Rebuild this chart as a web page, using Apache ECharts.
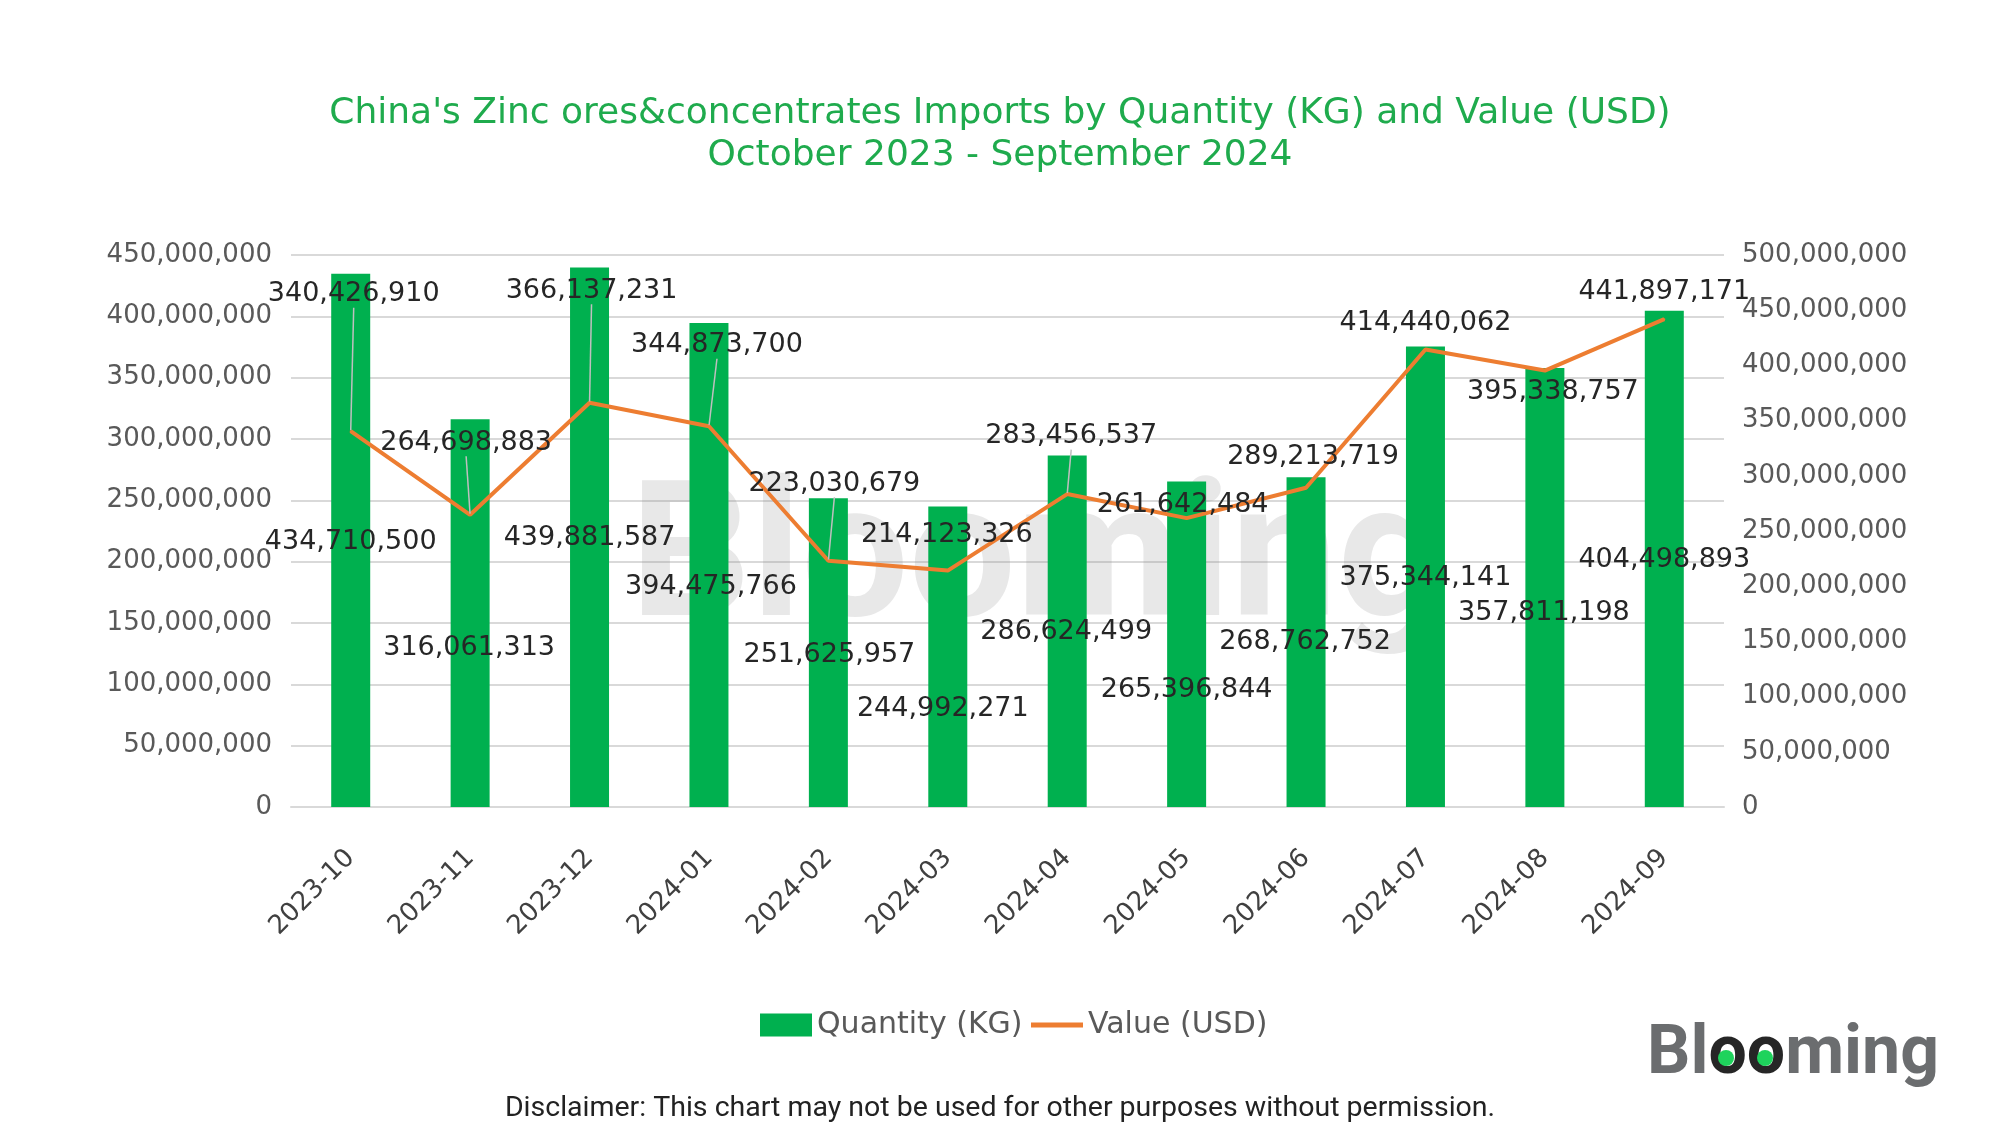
<!DOCTYPE html>
<html><head><meta charset="utf-8">
<script src="https://cdn.jsdelivr.net/npm/echarts@6/dist/echarts.min.js"></script>
<style>html,body{margin:0;padding:0;background:#fff}#c{width:2000px;height:1125px}</style>
</head><body><div id="c"></div>
<script>
const categories = ['2023-10','2023-11','2023-12','2024-01','2024-02','2024-03','2024-04','2024-05','2024-06','2024-07','2024-08','2024-09'];
const quantityKG = [434710500, 316061313, 439881587, 394475766, 251625957, 244992271, 286624499, 265396844, 268762752, 375344141, 357811198, 404498893];
const valueUSD = [340426910, 264698883, 366137231, 344873700, 223030679, 214123326, 283456537, 261642484, 289213719, 414440062, 395338757, 441897171];
const leftTicks = {min: 0, max: 450000000, interval: 50000000};
const rightTicks = {min: 0, max: 500000000, interval: 50000000};

// label displacement (pixels) relative to default anchor
const barLabelShift = [[0,2],[-1,35],[0,1],[2,22],[1,2],[-5,52],[-1,1],[0,46],[-1,0],[0,1],[-1,25],[0,1]];
const lineLabelShift = [[3,-137],[-4,-72],[2,-112],[8,-81],[6,-77],[-1,-36],[4,-58],[-4,-13],[7,-31],[0,-26],[8,21],[0,-27]];
const lineLeader = [true,true,true,true,true,false,true,false,false,false,false,false];

const fmt = v => v.toLocaleString('en-US');
const NUM_FONT = 'DejaVu Sans';
const chart = echarts.init(document.getElementById('c'), null, {renderer:'canvas'});
chart.setOption({
  backgroundColor: '#ffffff',
  animation: false,
  title: {
    text: "China's Zinc ores&concentrates Imports by Quantity (KG) and Value (USD)\nOctober 2023 - September 2024",
    left: 'center', top: 88,
    textStyle: {fontFamily: NUM_FONT, fontWeight: 'normal', fontSize: 36, color: '#1fab4d', lineHeight: 42}
  },
  legend: {
    bottom: 80, left: 755,
    itemWidth: 52, itemHeight: 23, itemGap: 6,
    textStyle: {fontFamily: NUM_FONT, fontSize: 30, color: '#595959'},
    data: [{name: 'Quantity (KG)', icon: 'rect'},
           {name: 'Value (USD)', itemStyle: {opacity: 0}, lineStyle: {width: 5, color: '#ed7d31'}}]
  },
  grid: {left: 291, right: 276, top: 255, bottom: 318, containLabel: false},
  xAxis: {
    type: 'category', data: categories,
    axisLine: {lineStyle: {color: '#d9d9d9', width: 2}},
    axisTick: {show: false},
    axisLabel: {rotate: 45, margin: 47, fontFamily: NUM_FONT, fontSize: 26, color: '#404040', interval: 0}
  },
  yAxis: [
    {type: 'value', min: leftTicks.min, max: leftTicks.max, interval: leftTicks.interval,
     axisLine: {show: false}, axisTick: {show: false},
     splitLine: {lineStyle: {color: '#d9d9d9', width: 2}},
     axisLabel: {formatter: fmt, margin: 19, fontFamily: NUM_FONT, fontSize: 26, color: '#595959'}},
    {type: 'value', min: rightTicks.min, max: rightTicks.max, interval: rightTicks.interval,
     axisLine: {show: false}, axisTick: {show: false}, splitLine: {show: false},
     axisLabel: {formatter: fmt, margin: 18, fontFamily: NUM_FONT, fontSize: 26, color: '#595959'}}
  ],
  series: [
    {
      name: 'Quantity (KG)', type: 'bar', yAxisIndex: 0, barWidth: 39, z: 3,
      itemStyle: {color: '#00b04f'},
      data: quantityKG,
      label: {show: true, position: 'inside', formatter: p => fmt(p.value),
              fontFamily: NUM_FONT, fontSize: 27, color: '#262626'},
      labelLayout: p => ({dx: barLabelShift[p.dataIndex][0], dy: barLabelShift[p.dataIndex][1]})
    },
    {
      name: 'Value (USD)', type: 'line', yAxisIndex: 1, z: 4,
      symbol: 'circle', symbolSize: 2, showSymbol: true,
      lineStyle: {color: '#ed7d31', width: 4},
      itemStyle: {color: '#ed7d31'},
      data: valueUSD.map((v, i) => ({value: v, labelLine: {show: lineLeader[i]}})),
      label: {show: true, position: 'inside', formatter: p => fmt(p.value),
              fontFamily: NUM_FONT, fontSize: 27, color: '#262626'},
      labelLine: {show: true, lineStyle: {color: '#bfbfbf', width: 1.5}},
      labelLayout: p => ({dx: lineLabelShift[p.dataIndex][0], dy: lineLabelShift[p.dataIndex][1]})
    }
  ],
  graphic: [
    {type: 'text', z: 1, left: 630, top: 472,
     style: {text: 'Blooming', font: 'bold 190px Roboto', fill: '#8a8a8a', opacity: 0.2}},
    {type: 'text', left: 'center', top: 1094,
     style: {text: 'Disclaimer: This chart may not be used for other purposes without permission.',
             font: '28.5px Roboto', fill: '#222222'}},
    {type: 'text', left: 1647, top: 1022,
     style: {text: '{g|Bl}{d|oo}{g|ming}',
             rich: {g: {font: 'bold 68px Roboto', fill: '#6b6d6f'}, d: {font: 'bold 68px Roboto', fill: '#262626'}}}},
    {type: 'circle', shape: {cx: 1726, cy: 1058, r: 8}, style: {fill: '#1ed35c'}, z: 10},
    {type: 'circle', shape: {cx: 1765, cy: 1058, r: 8}, style: {fill: '#1ed35c'}, z: 10}
  ]
});
</script></body></html>
